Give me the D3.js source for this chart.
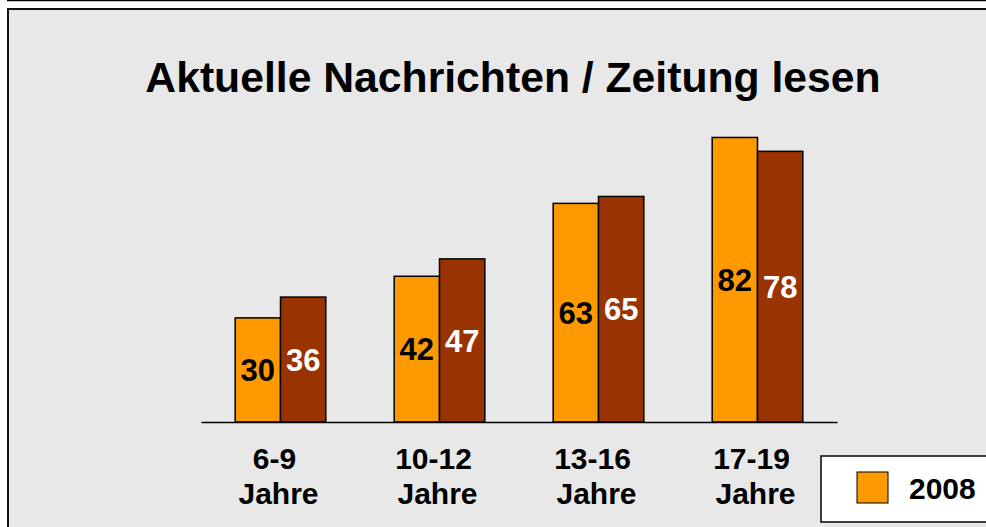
<!DOCTYPE html>
<html>
<head>
<meta charset="utf-8">
<script src="https://cdn.jsdelivr.net/npm/d3@7"></script>
<style>
body { margin: 0; background: #fff; }
svg { display: block; font-family: Arial, "Liberation Sans", sans-serif; font-weight: bold; }
</style>
</head>
<body>
<script>
var w = 986, h = 527;
var margin = {"left": 201, "right": 149, "top": 75, "bottom": 105};

var categories = ["6-9", "10-12", "13-16", "17-19"];
var unitLabel = "Jahre";
var seriesA = [30, 42, 63, 82];
var seriesB = [36, 47, 65, 78];
var legendLabels = ["2008"];
var title = "Aktuelle Nachrichten / Zeitung lesen";
var barColors = ["#FF9900", "#993300"];
var labelColors = ["#000", "#fff"];

var svg = d3.select("body")
            .append("svg")
            .attr("width", w)
            .attr("height", h);

// frame
svg.append("line")
    .attr("x1", 7).attr("x2", w)
    .attr("y1", 0.5).attr("y2", 0.5)
    .attr("stroke", "#000")
    .attr("stroke-width", 1.5);
svg.append("rect")
    .attr("x", 8).attr("y", 9)
    .attr("width", w).attr("height", h)
    .attr("fill", "#E8E8E8")
    .attr("stroke", "#111")
    .attr("stroke-width", 2);

svg.append("text")
    .attr("x", 513)
    .attr("y", 92)
    .attr("text-anchor", "middle")
    .attr("font-size", 42.7)
    .text(title);

var baseline = h - margin.bottom;

var x0 = d3.scaleBand()
            .domain(categories)
            .range([margin.left, w - margin.right])
            .paddingInner(0.43)
            .paddingOuter(0.215);

var x1 = d3.scaleBand()
            .domain([0, 1])
            .range([0, x0.bandwidth()]);

var yScale = d3.scaleLinear()
            .domain([0, 100])
            .range([baseline, margin.top]);

var rows = categories.map(function(c, i){
    return [{"cat": c, "s": 0, "v": seriesA[i]}, {"cat": c, "s": 1, "v": seriesB[i]}];
});

var groups = svg.append("g")
    .attr("id", "graph")
    .selectAll("g")
    .data(rows)
    .enter()
    .append("g")
    .attr("transform", function(d, i){ return "translate(" + x0(categories[i]) + ",0)"; });

groups.selectAll("rect")
    .data(function(d){ return d; })
    .enter()
    .append("rect")
    .attr("x", function(d){ return x1(d.s); })
    .attr("y", function(d){ return yScale(d.v); })
    .attr("width", x1.bandwidth())
    .attr("height", function(d){ return baseline - yScale(d.v); })
    .attr("fill", function(d){ return barColors[d.s]; })
    .attr("stroke", "#000")
    .attr("stroke-width", 1.5);

groups.selectAll("text")
    .data(function(d){ return d; })
    .enter()
    .append("text")
    .attr("x", function(d){ return x1(d.s) + x1.bandwidth()/2; })
    .attr("y", function(d){ return (yScale(d.v) + baseline)/2; })
    .attr("dy", "0.36em")
    .attr("text-anchor", "middle")
    .attr("font-size", 31)
    .attr("fill", function(d){ return labelColors[d.s]; })
    .text(function(d){ return d.v; });

var xAxis = d3.axisBottom(x0).tickSize(0).tickFormat("");
var axisG = svg.append("g")
    .attr("id", "x-axis")
    .attr("transform", "translate(0," + baseline + ")")
    .call(xAxis);
axisG.select(".domain").attr("stroke", "#000").attr("stroke-width", 1.5);

var catLabels = svg.append("g")
    .selectAll("text")
    .data(categories)
    .enter()
    .append("text")
    .attr("text-anchor", "middle")
    .attr("font-size", 30)
    .attr("transform", function(d){ return "translate(" + (x0(d) + x0.bandwidth()/2) + "," + (baseline + 47) + ")"; });
catLabels.append("tspan").attr("x", -6).attr("y", 0).text(function(d){ return d; });
catLabels.append("tspan").attr("x", -2).attr("y", 35).text(unitLabel);

// legend
var legend = svg.append("g").attr("transform", "translate(821,456)");
legend.append("rect")
    .attr("width", 200).attr("height", 66)
    .attr("fill", "#fff")
    .attr("stroke", "#000")
    .attr("stroke-width", 1.5);
var items = legend.selectAll("g.item")
    .data(legendLabels)
    .enter()
    .append("g")
    .classed("item", true)
    .attr("transform", function(d, i){ return "translate(" + (36 + i*130) + ",16)"; });
items.append("rect")
    .attr("width", 31).attr("height", 31)
    .attr("fill", function(d, i){ return barColors[i]; })
    .attr("stroke", "#000");
items.append("text")
    .attr("x", 52).attr("y", 27)
    .attr("font-size", 30)
    .text(function(d){ return d; });
</script>
</body>
</html>
